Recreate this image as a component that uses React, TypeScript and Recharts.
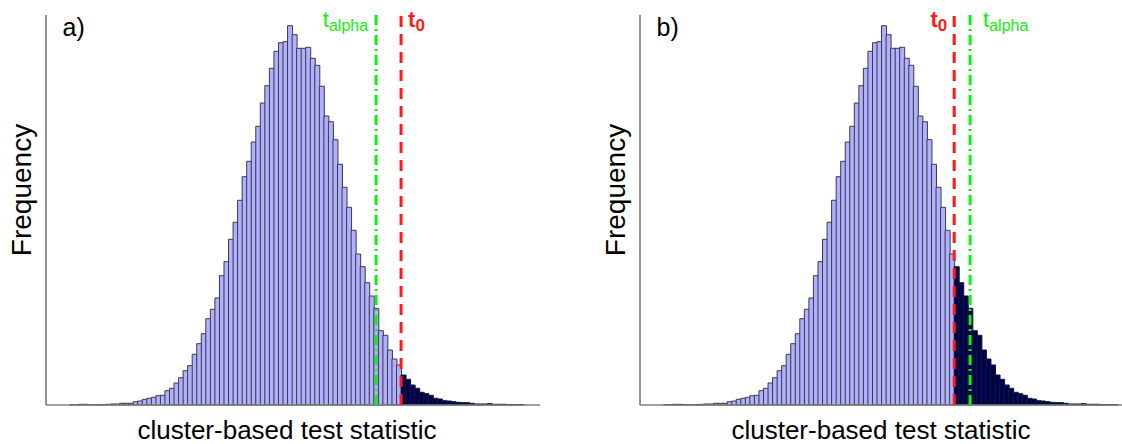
import React from "react";
import { Bar, BarChart, Cell, ReferenceLine, XAxis, YAxis } from "recharts";

// permutation distribution of the cluster-based statistic (relative counts per bin)
const frequency = [
  0.5, 0.5, 0.7, 0.7, 0.5, 0.5, 0.3, 0.3, 0.7, 1,
  1, 1.7, 1.7, 1.7, 3.3, 4, 5.7, 6.7, 7.7, 9.3,
  9.7, 14.3, 16.7, 22, 27.3, 34.3, 39.3, 50.7, 61.3, 71.3,
  86.3, 95.7, 107, 129.3, 143.3, 165.7, 182.7, 204.7, 228.3, 243.7,
  263, 278.7, 302, 319.3, 336.7, 353.7, 362.3, 363.3, 379.3, 370.3,
  356.7, 356.7, 357.7, 346.7, 339.7, 318.7, 289, 283.3, 265.3, 240.7,
  217.7, 197.7, 174.7, 151, 138.3, 122.3, 109, 96.7, 74.3, 69.7,
  55, 46, 40, 30, 25.7, 20, 16.7, 12.7, 11.3, 9.7,
  6.7, 6, 4.3, 4, 3.3, 2.7, 2.3, 2.3, 1.7, 1,
  1, 1, 1.3, 0.7, 0.7, 0.7, 0.5, 0.5, 0.5, 0.5,
];
const binStart = frequency.map((_, i) => i);

const panelLabels = ["a)", "b)"];
const t0Values = [73, 64];
const tAlpha = 67.5;
const xDomain = [-5.2, 103.6];
const yDomain = [0, 390];

const FONT = '"Liberation Sans", Arial, sans-serif';
const LIGHT = "#b0b0ff";
const DARK = "#00004f";
const GREEN = "#11ee11";
const RED = "#ff1a1a";

const W = 561;
const H = 444;
const M = { top: 15, right: 21, bottom: 39, left: 46 };

function TLabel(props: any) {
  const { viewBox, side, kind } = props;
  const x = viewBox?.x ?? 0;
  if (kind === "alpha") {
    const off = side === "left" ? -8 : 13;
    return (
      <text x={x + off} y={27} textAnchor={side === "left" ? "end" : "start"} fill={GREEN} fontFamily={FONT} fontSize={22}>
        t<tspan fontSize={16} dy={4}>alpha</tspan>
      </text>
    );
  }
  const off = side === "left" ? -7 : 7;
  return (
    <text x={x + off} y={27} textAnchor={side === "left" ? "end" : "start"} fill={RED} fontFamily={FONT} fontSize={22} fontWeight="bold">
      t<tspan fontSize={17} dy={4}>0</tspan>
    </text>
  );
}

function Panel({ label, t0, left }: { label: string; t0: number; left: number }) {
  const data = frequency.map((f, i) => ({ bin: binStart[i] + 0.5, f }));
  const t0First = t0 < tAlpha;
  return (
    <div style={{ position: "absolute", left, top: 0, width: W, height: H }}>
      <BarChart width={W} height={H} data={data} margin={M} barCategoryGap={0} barGap={0}>
        <XAxis dataKey="bin" type="number" domain={xDomain} tick={false} tickLine={false} axisLine={false} height={0} />
        <YAxis type="number" domain={yDomain} tick={false} tickLine={false} axisLine={false} width={0} />
        <Bar dataKey="f" isAnimationActive={false}>
          {data.map((_, i) => (
            <Cell
              key={i}
              fill={i >= t0 ? DARK : LIGHT}
              stroke={i >= t0 ? "#0a1c2c" : "#3a3a48"}
              strokeWidth={1}
            />
          ))}
        </Bar>
        {/* axis lines */}
        <ReferenceLine y={yDomain[0]} stroke="#808080" strokeWidth={1.5} />
        <ReferenceLine x={xDomain[0]} stroke="#707070" strokeWidth={1.5} />
        <ReferenceLine
          x={tAlpha}
          stroke={GREEN}
          strokeWidth={3}
          strokeDasharray="10 4 2 4"
          label={<TLabel kind="alpha" side={t0First ? "right" : "left"} />}
        />
        <ReferenceLine
          x={t0}
          stroke={RED}
          strokeWidth={3}
          strokeDasharray="11 7"
          label={<TLabel kind="t0" side={t0First ? "left" : "right"} />}
        />
      </BarChart>
      <svg width={W} height={H} style={{ position: "absolute", left: 0, top: 0, pointerEvents: "none" }}>
        <text x={M.left + 16.5} y={36} fontFamily={FONT} fontSize={25} fill="#000">
          {label}
        </text>
        <text
          x={31}
          y={190}
          transform="rotate(-90 31 190)"
          textAnchor="middle"
          fontFamily={FONT}
          fontSize={28}
          fill="#000"
        >
          Frequency
        </text>
        <text x={287} y={439} textAnchor="middle" fontFamily={FONT} fontSize={26} fill="#000">
          cluster-based test statistic
        </text>
      </svg>
    </div>
  );
}

export default function App() {
  return (
    <div style={{ position: "absolute", left: 0, top: 0, width: 1122, height: 444, overflow: "hidden", background: "#fff" }}>
      {panelLabels.map((l, i) => (
        <Panel key={l} label={l} t0={t0Values[i]} left={i * 594} />
      ))}
    </div>
  );
}
